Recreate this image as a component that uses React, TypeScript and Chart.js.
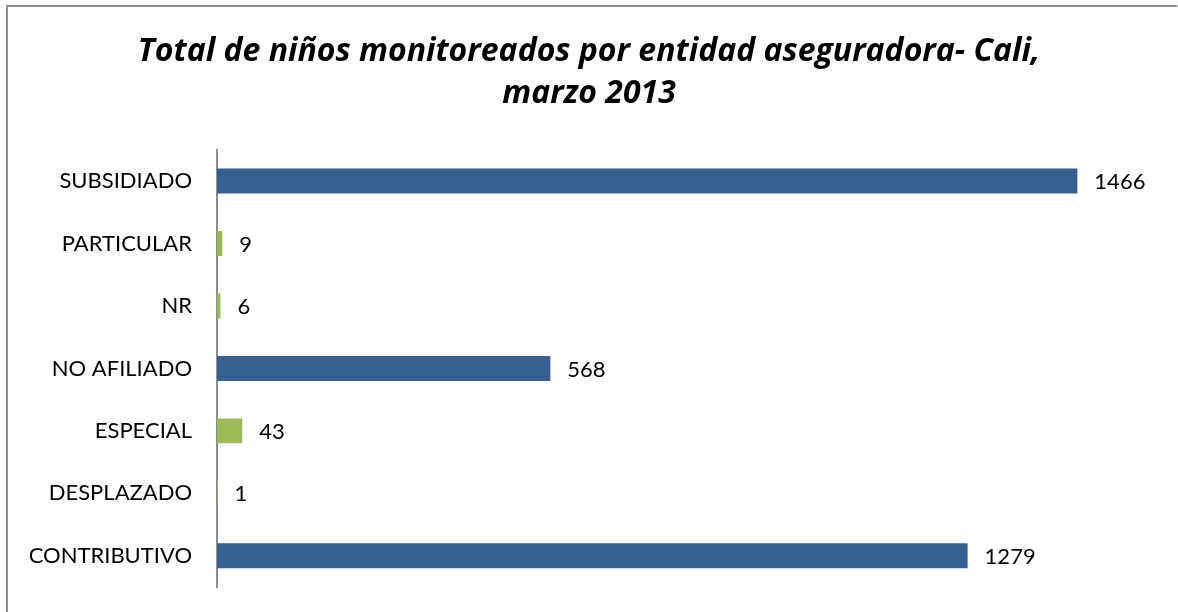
import React, { useEffect, useRef } from "react";
import { Chart, registerables } from "chart.js";

Chart.register(...registerables);

const categories = ["SUBSIDIADO", "PARTICULAR", "NR", "NO AFILIADO", "ESPECIAL", "DESPLAZADO", "CONTRIBUTIVO"];
const values = [1466, 9, 6, 568, 43, 1, 1279];
const barColors = ["#375F91", "#9BBB59", "#9BBB59", "#375F91", "#9BBB59", "#9BBB59", "#375F91"];
const titleLines = ["Total de niños monitoreados por entidad aseguradora- Cali,", "marzo 2013"];
const FONT = "Lato, 'Open Sans', sans-serif";
const TITLE_FONT = "'Open Sans', Lato, sans-serif";

const frame = {
  id: "frame",
  beforeDraw(chart: any) {
    const ctx = chart.ctx;
    ctx.save();
    ctx.fillStyle = "#ffffff";
    ctx.fillRect(0, 0, chart.width, chart.height);
    ctx.strokeStyle = "#8c8c8c";
    ctx.lineWidth = 2;
    ctx.beginPath();
    ctx.moveTo(7, chart.height);
    ctx.lineTo(7, 6);
    ctx.lineTo(1177, 6);
    ctx.stroke();
    ctx.restore();
  },
};

const valueLabels = {
  id: "valueLabels",
  afterDatasetsDraw(chart: any) {
    const ctx = chart.ctx;
    const meta = chart.getDatasetMeta(0);
    ctx.save();
    ctx.fillStyle = "#000000";
    ctx.font = "22px " + FONT;
    ctx.textBaseline = "middle";
    ctx.textAlign = "left";
    meta.data.forEach((bar: any, i: number) => {
      ctx.fillText(String(values[i]), bar.x + 17, bar.y + 1);
    });
    ctx.restore();
  },
};

export default function App() {
  const ref = useRef<HTMLCanvasElement>(null);
  useEffect(() => {
    if (!ref.current) return;
    const chart = new Chart(ref.current, {
      type: "bar",
      data: {
        labels: categories,
        datasets: [
          {
            data: values,
            backgroundColor: barColors,
            barPercentage: 0.4,
            categoryPercentage: 1,
          },
        ],
      },
      options: {
        indexAxis: "y",
        animation: false,
        responsive: false,
        layout: { padding: { top: 0, left: 22, right: 22, bottom: 25 } },
        plugins: {
          legend: { display: false },
          tooltip: { enabled: false },
          title: {
            display: true,
            text: titleLines,
            color: "#000000",
            font: { family: TITLE_FONT, size: 32, weight: "bold", style: "italic", lineHeight: 1.31 },
            padding: { top: 31, bottom: 35 },
          },
        },
        scales: {
          x: { display: false, min: 0, max: 1600 },
          y: {
            grid: { display: false, drawTicks: false },
            border: { display: true, color: "#8c8c8c", width: 2 },
            ticks: { color: "#000000", font: { family: FONT, size: 22 }, padding: 25 },
            afterFit(scale: any) {
              scale.width = 195;
              scale.paddingTop = 0;
              scale.paddingBottom = 0;
            },
          },
        },
      },
      plugins: [frame, valueLabels],
    });
    return () => chart.destroy();
  }, []);
  return (
    <div style={{ position: "fixed", left: 0, top: 0, width: 1178, height: 612, background: "#fff" }}>
      <canvas ref={ref} width={1178} height={612} style={{ display: "block" }} />
    </div>
  );
}
